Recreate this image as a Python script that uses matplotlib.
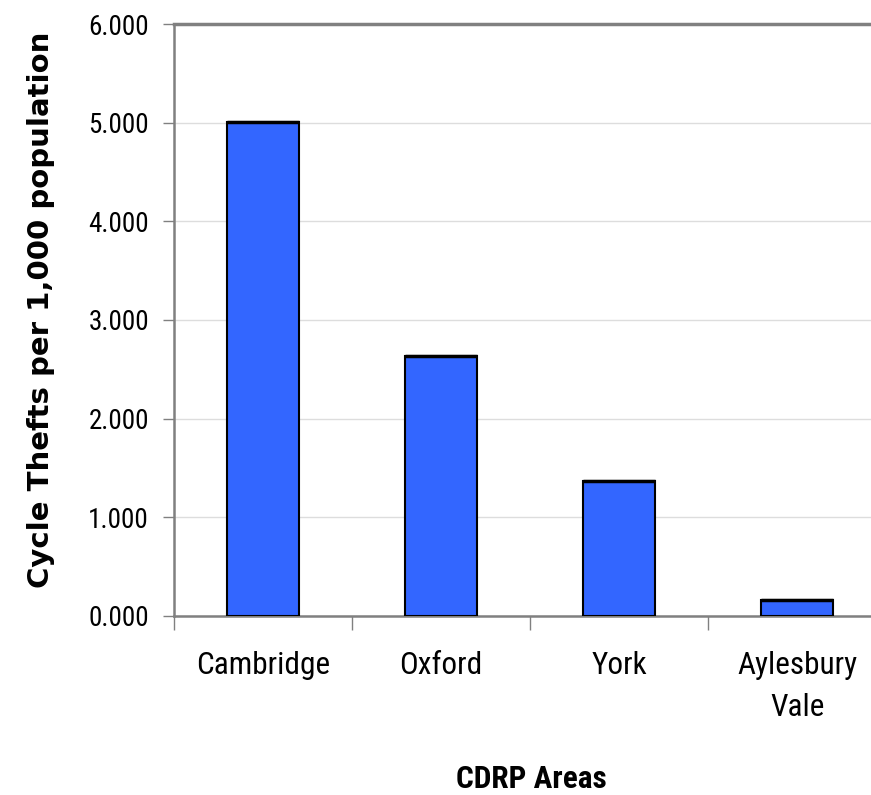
import matplotlib
matplotlib.use('Agg')
import matplotlib.pyplot as plt
import numpy as np

areas = ['Cambridge', 'Oxford', 'York', 'Aylesbury\nVale']
thefts_per_1000 = [5.01, 2.635, 1.368, 0.162]
y_ticks = [0, 1, 2, 3, 4, 5, 6]

narrow = ['Roboto Condensed', 'Liberation Sans', 'DejaVu Sans']
bar_w = 0.405

fig = plt.figure(figsize=(8.71, 7.95), dpi=100)
# the plot area runs slightly past the right edge of the picture, as in the original
ax = fig.add_axes([0.1998, 0.2252, 0.8177, 0.7446])

x = np.arange(len(areas))
ax.bar(x, thefts_per_1000, width=bar_w, color='#3366FF', edgecolor='black',
       linewidth=1.5, zorder=3)
# excel draws the top edge of each bar a little heavier
ax.hlines(thefts_per_1000, x - bar_w / 2, x + bar_w / 2, color='black',
          linewidth=2.5, zorder=4)

ax.set_xlim(-0.5, len(areas) - 0.5)
ax.set_ylim(0, 6)
ax.set_yticks(y_ticks)
ax.set_yticklabels(['%.3f' % v for v in y_ticks], family=narrow, fontsize=19.5)
ax.yaxis.grid(True, color='#DDDDDD', linewidth=1, zorder=0)
ax.axhline(6, color='#808080', linewidth=2.5, zorder=4, clip_on=False)

ax.set_xticks(x)
ax.set_xticklabels(areas, family=narrow, fontsize=22.5, linespacing=1.6)
ax.tick_params(axis='x', length=0, pad=25)
ax.set_xticks(np.arange(len(areas) + 1) - 0.5, minor=True)
ax.tick_params(axis='x', which='minor', length=10, color='#808080', width=1)
ax.tick_params(axis='y', length=8, color='#808080', width=1, pad=10)

for side in ['top', 'right']:
    ax.spines[side].set_visible(False)
for side in ['left', 'bottom']:
    ax.spines[side].set_color('#808080')
    ax.spines[side].set_linewidth(1.8)

ax.set_ylabel('Cycle Thefts per 1,000 population', family='DejaVu Sans',
              fontweight='bold', fontsize=21)
ax.yaxis.set_label_coords(-0.167, 0.517)
fig.text(0.6097, 0.0088, 'CDRP Areas', family=narrow, fontweight='bold',
         fontsize=22.5, ha='center', va='baseline')

fig.savefig('out.png', dpi=100)
